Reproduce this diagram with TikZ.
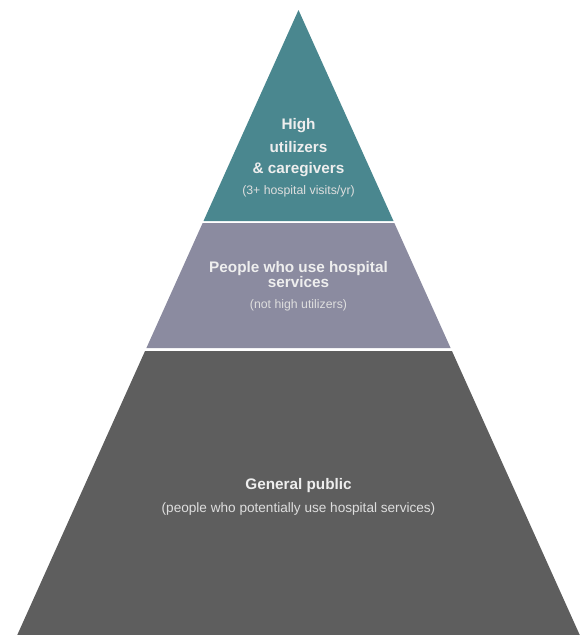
\documentclass[tikz,border=0pt]{standalone}
\usepackage{fontspec}
\setmainfont{Liberation Sans}
\definecolor{tealL}{RGB}{74,135,143}
\definecolor{purL}{RGB}{139,139,160}
\definecolor{darkL}{RGB}{94,94,94}
\definecolor{txtL}{RGB}{238,238,238}
\definecolor{subL}{RGB}{222,222,222}
\tikzset{
  headtxt/.style={text=txtL, font=\fontsize{15.3}{18}\selectfont\bfseries, anchor=base, inner sep=0pt},
  subtxt/.style={text=subL, font=\fontsize{12.3}{15}\selectfont, anchor=base, inner sep=0pt},
  subbig/.style={text=subL, font=\fontsize{13.6}{16}\selectfont, anchor=base, inner sep=0pt},
}
\begin{document}
\begin{tikzpicture}[x=1pt,y=-1pt]
\useasboundingbox (0,0) rectangle (582,635);
% layers
\fill[tealL] (298.5,10) -- (393.5,221) -- (203.5,221) -- cycle;
\fill[purL] (202.65,223) -- (394.35,223) -- (450.6,348) -- (146.4,348) -- cycle;
\fill[darkL] (145.05,351) -- (451.95,351) -- (579.75,635) -- (17.25,635) -- cycle;
% texts top
\node[headtxt] (t1) at (298.5,129) {High};
\node[headtxt] (t2) at (298.5,152) {utilizers};
\node[headtxt] (t3) at (298.5,173) {\& caregivers};
\node[subtxt]  (t4) at (298.5,194) {(3+ hospital visits/yr)};
% middle
\node[headtxt] (m1) at (298.5,272) {People who use hospital};
\node[headtxt] (m2) at (298.5,287) {services};
\node[subtxt]  (m3) at (298.5,308) {(not high utilizers)};
% bottom
\node[headtxt] (b1) at (298.5,489) {General public};
\node[subbig]  (b2) at (298.5,512) {(people who potentially use hospital services)};
\end{tikzpicture}
\end{document}
